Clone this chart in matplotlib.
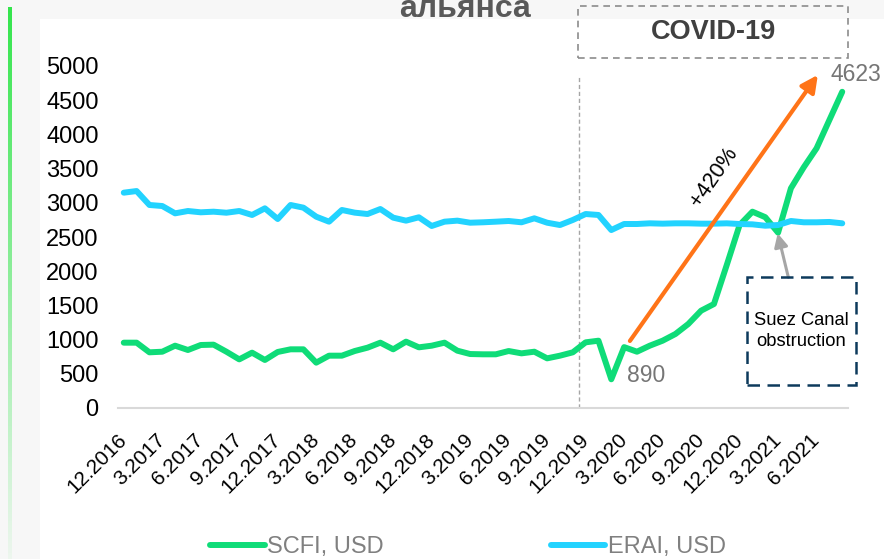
import numpy as np
import matplotlib.pyplot as plt
from matplotlib.patches import Rectangle

# monthly index values, 12.2016 .. 8.2021
scfi = [955, 955, 814, 823, 911, 848, 921, 926, 823, 711,
        809, 702, 819, 858, 858, 663, 765, 765, 833, 882,
        955, 858, 970, 887, 911, 955, 838, 789, 785, 785,
        833, 799, 823, 726, 765, 814, 960, 984, 420, 890,
        823, 911, 984, 1082, 1228, 1423, 1520, 2091, 2675, 2870,
        2790, 2563, 3212, 3519, 3797, 4211, 4623]
erai = [3148, 3172, 2968, 2953, 2846, 2880, 2861, 2870, 2855, 2880,
        2822, 2919, 2763, 2968, 2929, 2797, 2724, 2895, 2856, 2836,
        2909, 2783, 2739, 2788, 2661, 2724, 2739, 2709, 2715, 2724,
        2734, 2715, 2773, 2709, 2675, 2749, 2836, 2822, 2602, 2690,
        2690, 2700, 2695, 2700, 2700, 2695, 2695, 2700, 2690, 2685,
        2665, 2675, 2734, 2715, 2715, 2720, 2700]
tick_labels = ["12.2016", "3.2017", "6.2017", "9.2017", "12.2017", "3.2018",
               "6.2018", "9.2018", "12.2018", "3.2019", "6.2019", "9.2019",
               "12.2019", "3.2020", "6.2020", "9.2020", "12.2020", "3.2021",
               "6.2021"]
yticks = list(range(0, 5001, 500))

plt.rcParams['font.family'] = ['Liberation Sans', 'DejaVu Sans']

green = '#0fdc78'
cyan = '#22d3ff'

fig = plt.figure(figsize=(8.84, 5.59), dpi=100, facecolor='#f7f7f7')
# white slide area (behind everything)
fig.patches.append(Rectangle((40 / 884, 0), 1, (559 - 19) / 559, transform=fig.transFigure,
                             facecolor='white', edgecolor='none', zorder=-5))

# green gradient bar on the left edge
bar = fig.add_axes([8 / 884, 0, 4 / 884, (559 - 7) / 559])
grad = np.linspace(1, 0.05, 200).reshape(-1, 1)
rgba = np.zeros((200, 1, 4))
rgba[..., 0] = 0.2
rgba[..., 1] = 0.9
rgba[..., 2] = 0.3
rgba[..., 3] = grad
bar.imshow(rgba, aspect='auto')
bar.axis('off')

ax = fig.add_axes([118 / 884, (559 - 408) / 559, 730 / 884, 342 / 559])
ax.set_facecolor('none')
x = np.arange(len(scfi))
ax.plot(x, scfi, color=green, lw=4.3, solid_joinstyle='round', solid_capstyle='round', label='SCFI, USD', zorder=3)
ax.plot(x, erai, color=cyan, lw=4.3, solid_joinstyle='round', solid_capstyle='round', label='ERAI, USD', zorder=3)

ax.set_xlim(-0.45, 56.45)
ax.set_ylim(0, 5000)
ax.set_yticks(yticks)
ax.set_yticklabels([str(v) for v in yticks], fontsize=17)
ax.set_xticks(x[::3])
ax.set_xticklabels(tick_labels, rotation=45, ha='right', va='center', rotation_mode='anchor', fontsize=15)
ax.tick_params(axis='both', length=0)
ax.tick_params(axis='y', pad=14)
ax.tick_params(axis='x', pad=21)
for s in ['top', 'right', 'left']:
    ax.spines[s].set_visible(False)
ax.spines['bottom'].set_color('#d9d9d9')
ax.spines['bottom'].set_linewidth(1.5)

# covid marker line
ax.vlines(35.5, 0, 4850, colors='#a6a6a6', linestyles=(0, (3, 2)), lw=1, zorder=1)

# growth arrow
ax.annotate('', xy=(54.1, 4870), xytext=(39.45, 980),
            arrowprops=dict(arrowstyle='-|>', color='#ff7418', lw=3, mutation_scale=25, shrinkA=0, shrinkB=0),
            zorder=4)
ax.text(46.0, 3380, '+420%', rotation=55, fontsize=15.5, ha='center', va='center', rotation_mode='anchor')
ax.text(57.1, 4880, '4623', fontsize=16.5, color='#767676', ha='center', va='center', clip_on=False)
ax.text(40.7, 470, '890', fontsize=16.5, color='#767676', ha='center', va='center')

# suez annotation
ax.annotate('', xy=(50.97, 2554), xytext=(51.8, 1911),
            arrowprops=dict(arrowstyle='-|>', color='#a6a6a6', lw=2.2, mutation_scale=20, shrinkA=0, shrinkB=0))
fig.patches.append(Rectangle((746.7 / 884, (559 - 385) / 559), 109.3 / 884, 107.7 / 559,
                             transform=fig.transFigure, fill=False, edgecolor='#0d3a5c',
                             lw=1.8, linestyle=(0, (5, 3)), zorder=5))
fig.text(801 / 884, 1 - 331 / 559, 'Suez Canal\nobstruction', fontsize=13.2, ha='center', va='center',
         linespacing=1.3)

# covid box
fig.patches.append(Rectangle((578 / 884, (559 - 58) / 559), 270 / 884, 52 / 559,
                             transform=fig.transFigure, fill=False, edgecolor='#8c8c8c',
                             lw=1.2, linestyle=(0, (4, 3)), zorder=5))
fig.text(713 / 884, 1 - 32 / 559, 'COVID-19', fontsize=19.5, fontweight='bold', color='#404040',
         ha='center', va='center')

# title line, clipped at the top as in the slide
fig.text(465 / 884, 1 - 17 / 559, 'альянса', fontsize=23, fontweight='bold', color='#595959',
         ha='center', va='baseline')

fig.legend(loc='center', bbox_to_anchor=(468 / 884, 12 / 559), ncol=2, frameon=False,
           fontsize=17, handlelength=2.3, handletextpad=0.1, columnspacing=7.1, labelcolor='#808080')

fig.savefig('out.png', dpi=100, facecolor=fig.get_facecolor())
